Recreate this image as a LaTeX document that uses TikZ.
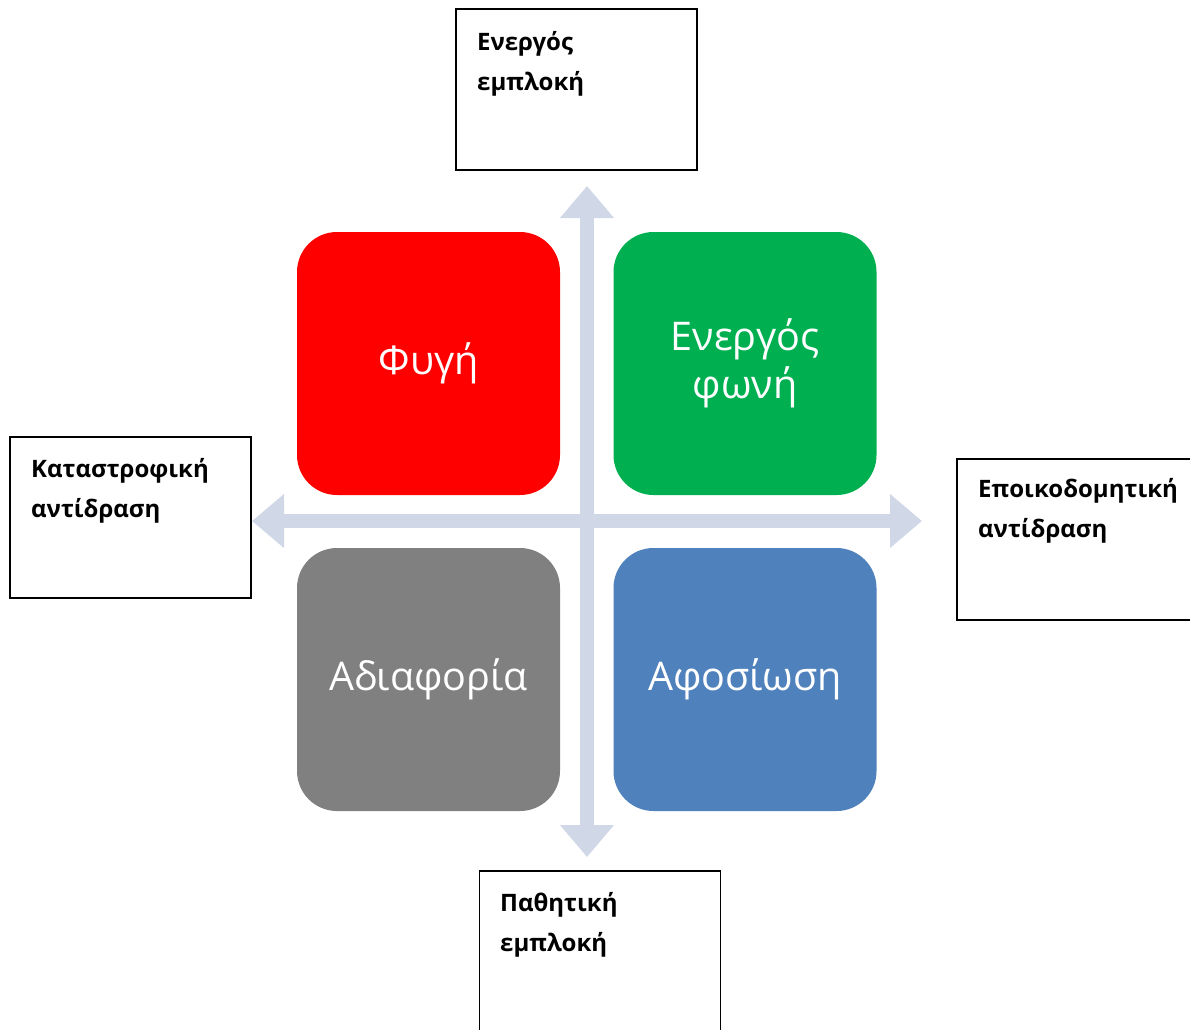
\documentclass[tikz,border=0pt]{standalone}
\usepackage{fontspec}
\setmainfont{Open Sans}
\usetikzlibrary{arrows.meta}
\definecolor{arrowc}{HTML}{D0D8E8}
\definecolor{qred}{HTML}{FF0000}
\definecolor{qgreen}{HTML}{00B050}
\definecolor{qgray}{HTML}{808080}
\definecolor{qblue}{HTML}{4F81BD}
\tikzset{
  quad/.style={rectangle, rounded corners=40pt, minimum width=263pt, minimum height=263pt, inner sep=0pt, text=white, align=center, font=\fontsize{39.5}{48}\selectfont},
  labelbox/.style={draw=black, line width=1.6pt, fill=white, minimum width=241pt, minimum height=161pt, inner sep=0pt},
  labeltext/.style={anchor=base west, inner sep=0pt, font=\bfseries\fontsize{24}{28}\selectfont},
  axis/.style={draw=arrowc, line width=14pt, {Triangle[length=32pt,width=52pt]}-{Triangle[length=32pt,width=52pt]}}
}
\begin{document}
\begin{tikzpicture}[x=1pt,y=1pt]
\path[use as bounding box] (0,0) rectangle (1190,-1029);
\clip (0,0) rectangle (1190,-1029);
\fill[white] (0,0) rectangle (1190,-1029);
% axes
\coordinate (ttip) at (587,-186);
\coordinate (btip) at (587,-857);
\coordinate (ltip) at (252,-521);
\coordinate (rtip) at (922,-521);
\draw[axis] (btip) -- (ttip);
\draw[axis] (ltip) -- (rtip);
% quadrants
\node[quad, fill=qred] (flight) at (428.5,-363.5) {Φυγή};
\node[quad, fill=qgreen] (voice) at (745,-363.5) {Ενεργός\\φωνή};
\node[quad, fill=qgray] (neglect) at (428.5,-679.5) {Αδιαφορία};
\node[quad, fill=qblue] (loyalty) at (745,-679.5) {Αφοσίωση};
% label boxes
\node[labelbox] (topbox) at (576.5,-89.5) {};
\node[labelbox] (leftbox) at (130.5,-517.5) {};
\node[labelbox] (rightbox) at (1077.5,-539.5) {};
\node[labelbox] (botbox) at (600,-951.5) {};
\node[labeltext] (t1) at (477,-50) {Ενεργός};
\node[labeltext] (t2) at (477,-90) {εμπλοκή};
\node[labeltext] (l1) at (31,-477) {Καταστροφική};
\node[labeltext] (l2) at (31,-517) {αντίδραση};
\node[labeltext] (r1) at (978,-497) {Εποικοδομητική};
\node[labeltext] (r2) at (978,-537) {αντίδραση};
\node[labeltext] (b1) at (500,-911) {Παθητική};
\node[labeltext] (b2) at (500,-951) {εμπλοκή};
\end{tikzpicture}
\end{document}
